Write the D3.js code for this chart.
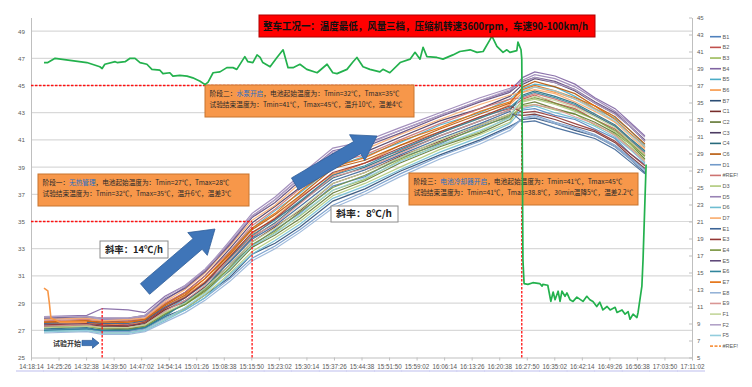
<!DOCTYPE html>
<html><head><meta charset="utf-8">
<script src="https://cdn.jsdelivr.net/npm/d3@7/dist/d3.min.js"></script>
<style>
html,body{margin:0;padding:0;background:#fff;}
svg{display:block;font-family:"Noto Sans CJK SC","Noto Sans",sans-serif;}
</style></head><body>
<svg id="chart" width="752" height="387"></svg>
<script>
// ---------- DATA ----------
const timeLabels = ["14:18:14","14:25:26","14:32:38","14:39:50","14:47:02","14:54:14","15:01:26","15:08:38","15:15:50","15:23:02","15:30:14","15:37:26","15:44:38","15:51:50","15:59:02","16:06:14","16:13:26","16:20:38","16:27:50","16:35:02","16:42:14","16:49:26","16:56:38","17:03:50","17:11:02"];
const tickStepMin = 7.2;            // minutes between category labels
const leftTicks = [25,27,29,31,33,35,37,39,41,43,45,47,49];
const rightTicks = [5,7,9,11,13,15,17,19,21,23,25,27,29,31,33,35,37,39,41,43,45];

// sample times (minutes after 14:18:14) for the cell temperature series
const timeMin = [3.4,14.6,18.6,25.4,29.8,35.0,40.3,45.5,52.0,57.8,63.8,70.3,78.9,87.3,96.5,106.9,117.4,125.2,128.6,131.7,137.0,142.2,147.4,152.7,156.6,160.5];

const seriesNames = ["B1","B2","B3","B4","B5","B6","B7","C1","C2","C3","C4","C6","D1","#REF!","D3","D5","D6","D7","E1","E3","E4","E5","E6","E7","E8","E9","F1","F2","F5"];
const seriesColors = ["#4F81BD","#C0504D","#9BBB59","#8064A2","#4BACC6","#F79646","#2C4D75","#772C2A","#5F7530","#4D3B62","#276A7C","#B65708","#729ACA","#CD7371","#AFC97A","#9983B5","#6FBDD1","#F9AB6B","#3C6496","#943634","#76923C","#5F497A","#31859C","#E36C09","#95B3D7","#D99694","#C3D69B","#B2A2C7","#93CDDD"];

const B1 = [27.4,27.5,27.3,27.4,27.5,28.5,29.2,30.1,31.8,33.2,34.4,35.6,37.6,38.3,39.7,40.7,42.0,42.7,43.2,43.3,42.8,42.5,41.8,41.1,40.0,39.2];
const B2 = [27.5,27.6,27.5,27.4,27.7,28.7,29.5,30.5,32.4,33.9,35.2,36.4,38.4,39.3,40.2,41.5,42.7,43.3,44.0,44.3,43.7,43.3,42.5,41.8,40.9,39.9];
const B3 = [27.2,27.3,27.1,27.2,27.3,28.2,28.9,29.8,31.6,33.1,34.2,35.4,37.3,38.1,39.5,40.6,41.6,42.7,43.5,43.6,43.2,42.9,42.1,41.4,40.5,39.5];
const B4 = [28.0,28.1,28.6,28.5,28.3,29.5,30.3,31.5,33.4,35.4,36.6,38.2,40.2,40.7,41.7,42.8,43.9,44.6,45.6,46.0,45.7,45.1,44.1,43.3,42.3,41.3];
const B5 = [27.3,27.4,27.2,27.3,27.4,28.4,29.4,30.4,32.8,34.5,35.8,37.1,39.0,39.8,40.8,42.1,43.0,44.0,44.8,45.1,44.9,44.2,43.3,42.6,41.7,40.6];
const B6 = [27.5,27.6,27.4,27.5,27.6,28.6,29.5,30.6,32.5,34.1,35.3,36.8,38.5,39.3,40.6,41.6,42.6,43.6,44.5,44.9,44.5,44.0,43.3,42.3,41.5,40.4];
const B7 = [27.0,27.1,27.0,27.0,27.2,28.0,28.6,29.6,30.9,32.6,33.4,34.6,36.5,37.4,38.7,39.9,41.0,42.0,42.5,42.6,42.2,41.7,41.3,40.5,39.6,38.6];
const C1 = [27.3,27.4,27.3,27.3,27.5,28.5,29.1,30.2,31.8,33.5,34.6,35.8,37.8,38.6,39.8,40.9,42.1,42.9,42.8,42.9,42.5,42.0,41.6,40.8,39.8,38.9];
const C2 = [27.2,27.3,27.2,27.1,27.4,28.3,28.9,29.9,31.4,33.1,34.0,35.2,37.1,38.0,39.3,40.5,41.5,42.5,43.6,43.8,43.3,42.9,42.3,41.5,40.7,39.6];
const C3 = [27.6,27.7,27.6,27.7,27.8,28.9,29.8,31.0,33.0,34.9,36.1,37.5,39.5,40.1,41.2,42.4,43.3,44.2,45.1,45.5,45.2,44.6,43.7,42.9,42.0,40.9];
const C4 = [27.1,27.2,27.0,27.1,27.2,28.1,29.0,30.1,32.1,33.8,34.9,36.4,38.2,39.0,40.1,41.3,42.4,43.2,44.3,44.6,44.2,43.7,42.9,42.1,41.1,40.2];
const C6 = [27.6,27.7,27.5,27.6,27.7,28.8,29.6,30.8,32.6,34.4,35.5,36.9,38.9,39.5,40.6,41.8,42.9,43.7,44.9,45.3,44.9,44.4,43.5,42.7,41.7,40.7];
const D1 = [27.0,27.1,26.9,26.9,27.1,27.9,28.5,29.4,30.8,32.3,33.2,34.4,36.2,37.2,38.5,39.8,40.9,41.9,42.6,42.8,42.3,41.9,41.4,40.6,39.7,38.8];
const REF1 = [27.7,27.8,27.7,27.7,27.9,29.0,29.8,31.0,32.8,34.7,35.9,37.4,39.3,39.9,41.0,42.2,43.3,44.0,44.1,44.4,44.0,43.5,42.8,42.0,41.0,40.0];
const D3 = [26.9,27.0,26.8,26.8,27.0,27.8,28.6,29.6,31.2,32.8,33.8,35.0,36.9,37.8,39.0,40.3,41.4,42.3,43.8,44.0,43.6,43.1,42.5,41.6,40.7,39.8];
const D5 = [27.8,27.9,27.8,27.8,28.0,29.2,30.2,31.4,33.6,35.6,36.8,38.4,40.4,40.9,41.9,43.0,44.1,44.8,45.4,45.8,45.5,44.9,44.0,43.1,42.2,41.2];
const D6 = [26.9,27.0,26.8,26.8,27.0,27.7,28.5,29.4,31.1,32.6,33.6,34.8,36.7,37.6,38.8,40.1,41.2,42.2,43.3,43.5,43.0,42.6,42.0,41.2,40.3,39.3];
const D7 = [27.8,27.9,27.7,27.8,27.9,29.1,30.0,31.2,33.2,35.1,36.2,37.8,39.7,40.3,41.4,42.5,43.6,44.3,44.5,44.7,44.4,43.8,43.1,42.3,41.3,40.3];
const E1 = [27.5,27.6,27.5,27.5,27.7,28.7,29.4,30.5,32.0,33.7,34.7,36.1,38.0,38.8,39.9,41.1,42.2,43.1,42.3,42.4,41.9,41.5,41.1,40.3,39.4,38.5];
const E3 = [27.4,27.5,27.4,27.3,27.6,28.6,29.4,30.5,32.4,34.2,35.2,36.7,38.6,39.3,40.4,41.6,42.7,43.5,43.0,43.1,42.7,42.2,41.7,40.9,40.0,39.1];
const E4 = [27.2,27.3,27.1,27.1,27.3,28.2,28.9,30.0,31.6,33.3,34.3,35.7,37.5,38.4,39.6,40.8,41.9,42.8,43.9,44.1,43.7,43.2,42.5,41.7,40.8,39.8];
const E5 = [27.9,28.0,27.9,27.9,28.1,29.3,30.1,31.3,33.3,35.3,36.4,38.0,40.0,40.5,41.5,42.7,43.8,44.5,45.3,45.6,45.3,44.7,43.8,43.0,42.0,41.0];
const E6 = [27.0,27.1,27.0,27.0,27.2,28.0,29.1,30.1,32.3,34.0,35.1,36.5,38.4,39.1,40.3,41.5,42.6,43.4,44.2,44.5,44.1,43.6,42.8,42.0,41.0,40.1];
const E7 = [27.6,27.7,27.6,27.6,27.8,28.9,29.7,30.8,32.7,34.5,35.6,37.2,39.0,39.7,40.9,41.9,43.1,43.8,44.7,45.0,44.6,44.1,43.5,42.5,41.5,40.5];
const E8 = [26.8,26.9,26.7,26.7,26.9,27.6,28.3,29.2,30.6,32.1,33.0,34.2,36.0,37.0,38.3,39.6,40.7,41.7,42.6,42.7,42.2,41.8,41.3,40.5,39.6,38.7];
const E9 = [27.3,27.4,27.2,27.2,27.4,28.4,29.2,30.3,32.2,33.9,34.8,36.3,38.3,38.9,40.0,41.3,42.4,43.2,43.4,43.6,43.3,42.7,42.2,41.3,40.4,39.4];
const F1 = [27.2,27.3,27.2,27.2,27.4,28.3,29.0,30.1,31.8,33.5,34.5,35.9,37.8,38.6,39.7,41.0,42.1,42.9,43.9,44.2,43.9,43.4,42.7,41.9,40.9,39.9];
const F2 = [28.0,28.0,27.9,27.9,28.1,29.4,30.3,31.5,33.5,35.4,36.6,38.2,40.1,40.6,41.7,42.8,43.9,44.7,45.2,45.6,45.2,44.7,43.7,42.9,42.0,40.9];
const F5 = [26.9,27.0,26.8,26.8,27.0,27.8,28.7,29.7,31.5,33.2,34.1,35.5,37.3,38.2,39.4,40.6,41.7,42.6,44.6,44.9,44.6,44.0,43.2,42.4,41.4,40.5];
const seriesValues = [B1,B2,B3,B4,B5,B6,B7,C1,C2,C3,C4,C6,D1,REF1,D3,D5,D6,D7,E1,E3,E4,E5,E6,E7,E8,E9,F1,F2,F5];

// short dashed "#REF!" series at the start
const ref2Name = "#REF!";
const ref2Color = "#F79646";
const ref2Times = [3.4,4.4,4.8,5.2,7.6,14.6];
const ref2Values = [30.1,29.9,29.0,27.9,27.6,27.6];

// green series (right axis)
const greenTimes = [3.4,4.4,6.3,14.6,18.0,18.6,19.3,22.0,22.5,24.6,25.9,27.2,28.5,30.3,31.6,33.7,34.5,36.3,37.1,38.9,40.8,42.3,44.2,45.5,46.3,47.6,49.4,51.2,52.8,53.8,55.9,56.7,58.0,59.1,59.9,60.6,62.5,64.3,65.9,67.2,68.5,70.3,72.1,74.8,77.4,78.9,80.0,82.6,84.2,85.2,86.8,88.6,91.2,92.0,93.8,96.5,99.1,100.4,101.7,102.5,103.5,106.1,107.7,110.3,112.1,114.8,116.6,118.2,120.0,120.5,121.8,123.4,124.4,125.2,127.0,127.3,128.1,128.3,128.6,128.9,129.9,131.2,133.0,133.6,133.8,135.1,135.9,136.5,137.0,137.8,138.3,138.8,139.6,140.1,140.9,141.7,142.7,144.3,145.3,146.1,146.9,147.9,148.7,149.5,150.6,151.4,152.7,153.2,154.5,155.3,156.1,156.6,157.4,158.4,158.7,159.7,160.0,160.8];
const greenValues = [39.7,39.7,40.2,39.7,39.2,39.0,39.5,39.8,39.7,39.8,40.2,40.2,39.7,39.5,38.9,38.8,38.4,38.5,38.1,38.2,38.1,37.9,37.5,37.1,37.4,38.5,38.6,39.1,39.1,38.9,40.4,39.8,39.7,40.6,40.3,39.7,39.2,40.3,41.2,39.1,39.1,39.5,38.9,38.5,39.5,38.5,38.4,38.9,39.8,40.3,39.2,38.9,38.6,38.9,38.5,39.7,40.1,40.9,40.1,41.5,40.4,40.3,40.1,40.6,41.0,41.2,40.9,41.0,42.4,42.8,41.6,40.9,41.2,40.9,41.1,42.1,41.2,40.1,16.5,13.7,13.6,13.8,13.7,13.4,13.6,13.5,11.6,12.7,11.8,12.8,11.6,12.8,12.2,12.6,11.8,11.6,12.1,11.6,12.2,11.8,11.6,11.0,11.5,10.6,11.0,10.6,10.9,10.3,10.6,10.1,10.4,9.5,10.1,9.7,10.3,13.4,16.5,27.7];

// phase marker guide lines (time in minutes, temperature on left axis)
const guideH = [{t0:0, t1:57.8, v:35}, {t0:0, t1:128.3, v:45}];
const guideV = [{t:18.6, v0:25, v1:28.6}, {t:57.8, v0:25, v1:35}, {t:128.3, v0:25, v1:45}];

// ---------- SCALES ----------
const svg = d3.select("#chart");
const xS = d3.scaleLinear().domain([0, 172.8]).range([31, 692]);
const yL = d3.scaleLinear().domain([25, 50]).range([357.5, 17.5]);
const yR = d3.scaleLinear().domain([5, 45]).range([357.5, 17.5]);

// gridlines
svg.append("g").selectAll("line").data(leftTicks.filter(d => d > 25)).join("line")
  .attr("x1", 31).attr("x2", 692)
  .attr("y1", d => yL(d)).attr("y2", d => yL(d))
  .attr("stroke", "#d9d9d9").attr("stroke-width", 1.2);

// axes
const axisColor = "#bfbfbf", labColor = "#595959";
const gL = svg.append("g").attr("transform", "translate(31,0)")
  .call(d3.axisLeft(yL).tickValues(leftTicks).tickSize(0).tickPadding(6));
const gR = svg.append("g").attr("transform", "translate(692,0)")
  .call(d3.axisRight(yR).tickValues(rightTicks).tickSizeInner(-3).tickSizeOuter(0).tickPadding(5));
const gB = svg.append("g").attr("transform", "translate(0,357.5)")
  .call(d3.axisBottom(xS).tickValues(d3.range(timeLabels.length).map(i => i * tickStepMin))
    .tickFormat((d, i) => timeLabels[i]).tickSizeInner(3).tickSizeOuter(0).tickPadding(4));
[gL, gR, gB].forEach(g => {
  g.select(".domain").attr("stroke", axisColor);
  g.selectAll(".tick line").attr("stroke", axisColor);
  g.selectAll("text").attr("fill", labColor).attr("font-family", "Liberation Sans, Arial, sans-serif");
});
gL.selectAll("text").attr("font-size", 6.2);
gR.selectAll("text").attr("font-size", 6);
gB.selectAll("text").attr("font-size", 6.3);
// underline marks under time labels
svg.append("g").selectAll("line").data(d3.range(timeLabels.length)).join("line")
  .attr("x1", i => xS(i * tickStepMin) - 15).attr("x2", i => xS(i * tickStepMin) + 13)
  .attr("y1", 371).attr("y2", 371)
  .attr("stroke", "#9a9ae6").attr("stroke-width", 0.8).attr("opacity", 0.8);

// ---------- SERIES ----------
const lineL = d3.line().x(d => xS(d[0])).y(d => yL(d[1]));
const gS = svg.append("g");
seriesValues.forEach((vals, k) => {
  gS.append("path")
    .datum(vals.map((v, i) => [timeMin[i], v]))
    .attr("d", lineL).attr("fill", "none")
    .attr("stroke", seriesColors[k]).attr("stroke-width", 1.2).attr("opacity", 0.9);
});
gS.append("path")
  .datum(ref2Values.map((v, i) => [ref2Times[i], v]))
  .attr("d", lineL).attr("fill", "none")
  .attr("stroke", ref2Color).attr("stroke-width", 1.6);

// guide lines (red dashed)
const gG = svg.append("g");
gG.selectAll("line.h").data(guideH).join("line").attr("class", "h")
  .attr("x1", d => xS(d.t0)).attr("x2", d => xS(d.t1))
  .attr("y1", d => yL(d.v)).attr("y2", d => yL(d.v))
  .attr("stroke", "#ff1010").attr("stroke-width", 1.3).attr("stroke-dasharray", "2.5,1.5");
gG.selectAll("line.v").data(guideV).join("line").attr("class", "v")
  .attr("x1", d => xS(d.t)).attr("x2", d => xS(d.t))
  .attr("y1", d => yL(d.v0)).attr("y2", d => yL(d.v1))
  .attr("stroke", "#ff1010").attr("stroke-width", 1.3).attr("stroke-dasharray", "2.5,1.5");

// ---------- ANNOTATION BOXES ----------
const cjk = '"Noto Sans CJK SC", sans-serif';
function phaseBox(x, y, w, h, head, blue, rest, line2, len1, len2) {
  const g = svg.append("g");
  g.append("rect").attr("x", x).attr("y", y).attr("width", w).attr("height", h)
    .attr("fill", "#F7974A").attr("stroke", "#C8752F").attr("stroke-width", 1);
  const t1 = g.append("text").attr("x", x + 4.5).attr("y", y + 10.5)
    .attr("font-size", 7).attr("font-family", cjk).attr("fill", "#2a2a2a")
    .attr("textLength", len1).attr("lengthAdjust", "spacingAndGlyphs");
  t1.append("tspan").text(head);
  t1.append("tspan").attr("fill", "#1F6FC5").text(blue);
  t1.append("tspan").text(rest);
  g.append("text").attr("x", x + 4.5).attr("y", y + 22)
    .attr("font-size", 7).attr("font-family", cjk).attr("fill", "#2a2a2a")
    .attr("textLength", len2).attr("lengthAdjust", "spacingAndGlyphs").text(line2);
}
phaseBox(38, 174, 211, 32, "阶段一：", "无热管理", "，电池起始温度为：Tmin=27℃，Tmax=28℃",
  "试验结束温度为：Tmin=32℃，Tmax=35℃，温升6℃，温差3℃", 187, 189);
phaseBox(205, 85, 209, 32, "阶段二：", "水泵开启", "，电池起始温度为：Tmin=32℃，Tmax=35℃",
  "试验结束温度为：Tmin=41℃，Tmax=45℃，温升10℃，温差4℃", 190, 193);
phaseBox(409, 173, 229, 32, "阶段三：", "电池冷却器开启", "，电池起始温度为：Tmin=41℃，Tmax=45℃",
  "试验结束温度为：Tmin=41℃，Tmax=38.8℃，30min温降5℃，温差2.2℃", 209, 220);

// ---------- GREEN LINE (right axis) ----------
const lineR = d3.line().x(d => xS(d[0])).y(d => yR(d[1]));
svg.append("path").datum(greenValues.map((v, i) => [greenTimes[i], v]))
  .attr("d", lineR).attr("fill", "none").attr("stroke", "#23B14D").attr("stroke-width", 1.7)
  .attr("stroke-linejoin", "round");

// ---------- TITLE ----------
svg.append("rect").attr("x", 259).attr("y", 15).attr("width", 336).attr("height", 22)
  .attr("fill", "#FF0000").attr("stroke", "#B00000").attr("stroke-width", 1);
svg.append("text").attr("x", 263).attr("y", 30).attr("font-size", 10.5).attr("font-weight", "bold")
  .attr("font-family", cjk).attr("fill", "#111").attr("textLength", 325).attr("lengthAdjust", "spacingAndGlyphs")
  .text("整车工况一：温度最低，风量三档，压缩机转速3600rpm，车速90-100km/h");

// ---------- ARROWS ----------
function arrow(x0, y0, x1, y1, sw, hw, hl, fill, stroke) {
  const dx = x1 - x0, dy = y1 - y0, L = Math.hypot(dx, dy);
  const ux = dx / L, uy = dy / L, px = -uy, py = ux;
  const bx = x1 - ux * hl, by = y1 - uy * hl;
  const pts = [[x0 + px * sw, y0 + py * sw], [bx + px * sw, by + py * sw], [bx + px * hw, by + py * hw], [x1, y1],
    [bx - px * hw, by - py * hw], [bx - px * sw, by - py * sw], [x0 - px * sw, y0 - py * sw]];
  svg.append("polygon").attr("points", pts.map(p => p.join(",")).join(" "))
    .attr("fill", fill).attr("stroke", stroke).attr("stroke-width", 0.8);
}
arrow(145, 289, 215, 229, 7, 15, 23, "#3F75B8", "#2E5D98");
arrow(295, 184, 377, 136, 7, 15, 23, "#3F75B8", "#2E5D98");
arrow(82, 343, 99, 343, 2.6, 5.2, 6.5, "#3F75B8", "#2E5D98");

// slope labels
function slopeBox(x, y, w, h, txt, len) {
  svg.append("rect").attr("x", x).attr("y", y).attr("width", w).attr("height", h)
    .attr("fill", "#fff").attr("stroke", "#8c8c8c").attr("stroke-width", 1);
  svg.append("text").attr("x", x + 5).attr("y", y + h / 2 + 3.3).attr("font-size", 9).attr("font-weight", "bold")
    .attr("font-family", cjk).attr("fill", "#222").attr("textLength", len).attr("lengthAdjust", "spacingAndGlyphs").text(txt);
}
slopeBox(100, 241, 68, 17, "斜率：14℃/h", 58);
slopeBox(331, 206, 67, 16, "斜率：8℃/h", 56);

svg.append("text").attr("x", 53).attr("y", 345.5).attr("font-size", 7).attr("font-weight", "bold")
  .attr("font-family", cjk).attr("fill", "#333").text("试验开始");

// ---------- LEGEND ----------
const legNames = seriesNames.concat([ref2Name]);
const legColors = seriesColors.concat([ref2Color]);
const gLeg = svg.append("g");
legNames.forEach((n, i) => {
  const y = 36.7 + i * 10.67;
  gLeg.append("line").attr("x1", 710).attr("x2", 721).attr("y1", y).attr("y2", y)
    .attr("stroke", legColors[i]).attr("stroke-width", 1.6)
    .attr("stroke-dasharray", i === legNames.length - 1 ? "3,1.5" : null);
  gLeg.append("text").attr("x", 722.5).attr("y", y + 2).attr("font-size", 5.5)
    .attr("font-family", "Liberation Sans, Arial, sans-serif").attr("fill", labColor).text(n);
});
</script>
</body></html>
